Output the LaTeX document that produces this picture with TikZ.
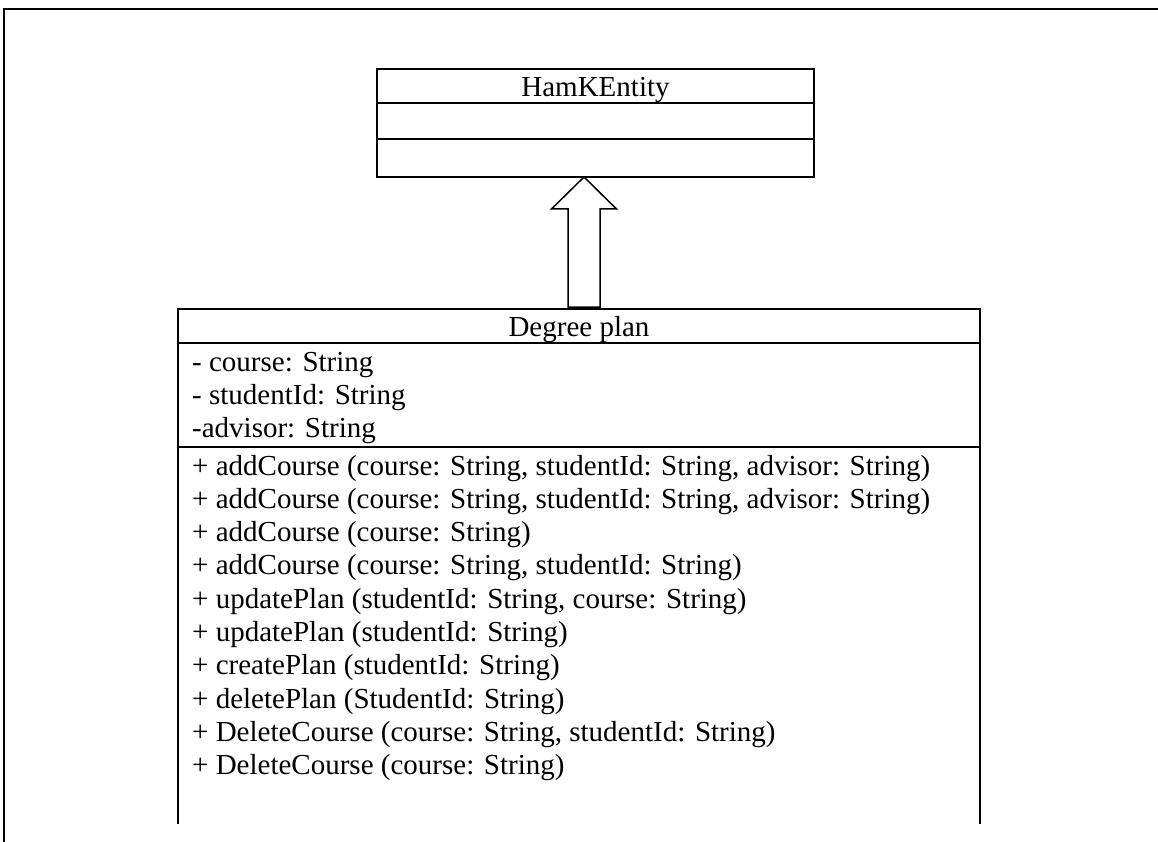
\documentclass[tikz,border=0pt]{standalone}
\usepackage{fontspec}
\setmainfont{Liberation Serif}
\usetikzlibrary{positioning,calc}

\tikzset{
  umlline/.style={line width=1.5pt},
  compart/.style={draw, umlline, minimum width=#1, inner sep=0pt, outer sep=0pt},
  member/.style={anchor=base west, inner sep=0pt},
  title/.style={anchor=base, inner sep=0pt},
}

\begin{document}
\begin{tikzpicture}[x=1pt,y=-1pt,font=\fontsize{29}{33.3}\selectfont]
\useasboundingbox (0,0) rectangle (1158,842);

% page frame (left and top edges only)
\draw[line width=2pt] (4,842) -- (4,9) -- (1158,9);

% superclass: three compartments
\node[compart=437pt, minimum height=34pt, anchor=north west] (hamk) at (377,69) {};
\node[compart=437pt, minimum height=36pt, below=0pt of hamk] (hamkattr) {};
\node[compart=437pt, minimum height=38pt, below=0pt of hamkattr] (hamkops) {};
\node[title] (hamkname) at ([yshift=-28pt]hamk.north) {HamKEntity};

% subclass, bottom runs off the page
\node[compart=802pt, minimum height=34pt, anchor=north west] (plan) at (178,309) {};
\node[compart=802pt, minimum height=104pt, below=0pt of plan] (planattr) {};
\node[minimum width=802pt, minimum height=377pt, inner sep=0pt, outer sep=0pt, below=0pt of planattr] (planops) {};
\draw[umlline] (planops.north west) -- (planops.south west)
               (planops.north east) -- (planops.south east);
\node[title] (planname) at ([yshift=-27pt]plan.north) {Degree plan};

% attributes
\foreach \txt [count=\i from 0] in {- course: String, - studentId: String, -advisor: String}
  \node[member] (attr\i) at (192,{371+33*\i}) {\txt};

% operations
\foreach \txt [count=\i from 0] in {
    {+ addCourse (course: String, studentId: String, advisor: String)},
    {+ addCourse (course: String, studentId: String, advisor: String)},
    {+ addCourse (course: String)},
    {+ addCourse (course: String, studentId: String)},
    {+ updatePlan (studentId: String, course: String)},
    {+ updatePlan (studentId: String)},
    {+ createPlan (studentId: String)},
    {+ deletePlan (StudentId: String)},
    {+ DeleteCourse (course: String, studentId: String)},
    {+ DeleteCourse (course: String)}}
  \node[member] (op\i) at (192,{475+33.3*\i}) {\txt};

% generalisation: hollow block arrow from subclass up to superclass
\coordinate (tip) at ([xshift=-11.5pt]hamkops.south);
\coordinate (tail) at ([xshift=5pt,yshift=2pt]plan.north);
\coordinate (shaftr) at ($(tip)+(16,0)$);
\coordinate (shaftl) at ($(tip)+(-16,0)$);
\draw[umlline, fill=white, line join=miter]
  (tip) -- ($(tip)+(32.5,32)$) -- ($(tip)+(16,32)$) -- (tail -| shaftr)
  -- (tail -| shaftl) -- ($(tip)+(-16,32)$) -- ($(tip)+(-32.5,32)$) -- cycle;

\end{tikzpicture}
\end{document}
